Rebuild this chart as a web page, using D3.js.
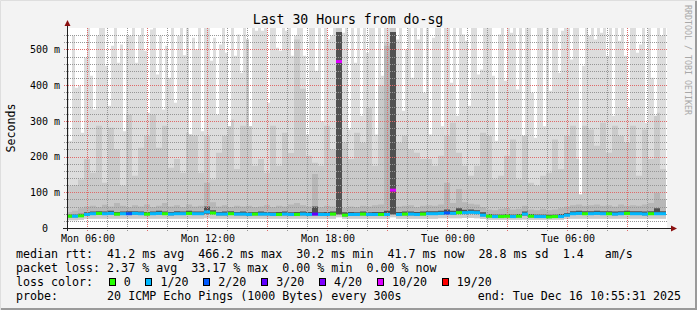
<!DOCTYPE html>
<html>
<head>
<meta charset="utf-8">
<script src="https://cdn.jsdelivr.net/npm/d3@7/dist/d3.min.js"></script>
<style>
body { margin: 0; background: #f3f3f3; }
svg { display: block; }
svg text { font-family: "DejaVu Sans Mono", monospace; white-space: pre; fill: #000; }
</style>
</head>
<body>
<svg id="chart" width="697" height="310"></svg>
<script>

// ---- data ----
var startTime = new Date(2025, 11, 15, 4, 55, 31);
var endTime = new Date(2025, 11, 16, 10, 55, 31);
var stepMin = 18;      // bucket size for median / loss / inner smoke
var topStepMin = 9;    // bucket size for the outer smoke (max ping)

var medianMs = [33,33,34,38,40,41,40,41,39,40, 40,41,40,39,40,41,40,39,40,40,
  41,40,40,45,42,39,39,40,39,39, 38,39,39,39,38,38,39,38,38,39,
  38,39,38,38,39,466,36,38,38,39, 38,38,38,38,106,38,39,39,38,39,
  40,40,41,42,41,43,43,44,43,36, 33,32,32,33,32,33,39,33,32,32,
  31,32,32,36,40,41,40,40,41,40, 40,39,40,41,40,40,39,40,40,40];

var lossCount = [0,1,0,1,1,0,1,1,0,1, 2,1,1,0,1,1,0,1,1,1,
  0,1,1,1,0,1,1,0,1,1, 1,0,1,1,1,0,1,1,0,1,
  1,3,1,1,0,10,0,1,1,0, 1,1,0,1,10,1,0,1,1,0,
  1,1,1,2,1,0,1,1,1,1, 0,1,0,0,1,0,1,0,1,1,
  0,0,1,1,1,1,0,1,1,1, 0,1,1,0,1,1,1,0,1,1];

var ping1Ms = [22,22,23,26,26,26,26,26,26,26, 26,26,26,26,26,26,26,26,26,26,
  26,26,26,27,26,26,26,26,26,26, 26,26,26,26,26,26,26,26,26,26,
  26,26,26,26,26,30,26,26,26,26, 26,26,26,26,30,26,26,26,26,26,
  26,26,27,27,27,27,28,28,27,25, 23,23,23,23,23,23,24,23,23,23,
  23,23,23,25,26,26,26,26,26,26, 26,26,26,26,26,26,26,26,26,26];

var ping4Ms = [30,30,31,35,37,38,37,38,36,37, 37,38,37,36,37,38,37,36,37,37,
  38,37,37,40,39,36,36,37,36,36, 35,36,36,36,35,35,36,35,35,36,
  35,36,35,35,36,38,33,35,35,36, 35,35,35,35,38,35,36,36,35,36,
  37,37,38,39,38,40,40,41,40,33, 30,29,29,30,29,30,35,30,29,29,
  28,29,29,33,37,38,37,37,38,37, 37,36,37,38,37,37,36,37,37,37];

var ping17Ms = [38,38,40,44,46,47,46,48,45,46, 47,47,46,45,46,48,46,45,47,46,
  48,46,46,60,50,45,46,47,45,46, 44,45,46,45,44,45,46,44,45,46,
  45,60,44,45,46,549,44,45,44,46, 44,45,45,48,549,45,46,46,45,46,
  47,47,48,52,48,55,51,52,50,44, 39,38,38,39,38,39,46,39,38,38,
  37,38,39,42,47,48,47,47,48,47, 47,46,47,48,47,47,46,47,55,47];

var ping18Ms = [45,48,55,60,62,58,65,60,70,62, 58,64,60,66,58,62,70,60,64,58,
  66,60,62,127,72,60,64,58,62,60, 62,58,60,64,58,62,60,66,70,64,
  60,151,58,62,60,549,56,60,58,62, 60,64,66,510,549,60,62,64,58,62,
  64,62,66,127,70,109,72,68,66,58, 52,50,54,56,52,54,62,52,50,54,
  50,52,55,60,64,66,62,64,66,62, 64,60,66,62,64,62,66,70,99,80];

var ping19Ms = [118,120,136,193,155,286,127,281,220,118, 318,146,225,258,318,225,286,169,193,155,
  267,258,155,258,136,211,258,304,165,286, 547,174,193,155,286,174,267,210,528,390,
  202,183,174,286,220,600,239,193,267,239, 337,174,398,520,600,239,258,220,211,193,
  193,174,202,258,295,211,174,146,174,267, 258,136,146,202,248,136,258,127,118,146,
  155,248,165,258,286,193,286,276,230,295, 211,286,258,239,286,146,276,193,323,165];

var ping20Ms = [458,244,538,393,398,267,477,600,426,332, 538,600,600,454,342,510,600,463,514,271,
  538,538,600,463,538,600,496,323,556,600, 430,538,332,510,421,600,351,538,600,484,
  600,262,533,500,600,271,600,600,468,533, 318,514,600,491,285,600,482,542,435,600,
  528,285,600,552,600,552,600,351,600,600, 505,496,600,552,600,482,538,600,600,482,
  262,600,600,440,600,299,600,528,538,600, 600,600,547,600,276,600,463,600,314,600,
  491,600,600,262,600,426,600,600,600,600, 528,600,328,500,600,421,600,528,600,379,
  600,262,533,600,600,285,600,600,407,600, 314,600,542,524,342,600,600,430,444,600,
  600,600,426,244,542,600,412,600,547,600, 388,600,258,600,600,379,253,600,600,285,
  600,384,600,600,435,552,600,600,472,600, 600,94,454,600,538,600,528,600,547,600,
  482,600,314,600,524,600,482,337,600,600, 491,514,600,294,600,421,314,600,538,600];

var lossSteps = [0, 1, 2, 3, 4, 10, 19];
var lossLabels = ["0", "1/20", "2/20", "3/20", "4/20", "10/20", "19/20"];
var lossColors = ["#26ff00", "#00b8ff", "#0059ff", "#5e00ff", "#7e00ff", "#dd00ff", "#ff0000"];

var yTicks = [0, 0.1, 0.2, 0.3, 0.4, 0.5];

var legendLines = [
  "median rtt:  41.2 ms avg  466.2 ms max  30.2 ms min  41.7 ms now  28.8 ms sd  1.4   am/s",
  "packet loss: 2.37 % avg  33.17 % max  0.00 % min  0.00 % now",
  "loss color:",
  "probe:       20 ICMP Echo Pings (1000 Bytes) every 300s"
];
var endLabel = "end: Tue Dec 16 10:55:31 2025";
var title = "Last 30 Hours from do-sg";


function drawChart() {
  var W = 697, H = 310;
  var pLeft = 67, pRight = 667, pTop = 28, pBottom = 228;

  var svg = d3.select("#chart");

  // rrdtool puts the time origin one pixel left of the axis line
  var x = d3.scaleTime().domain([startTime, endTime]).range([pLeft - 1, pRight - 1]);
  var y = d3.scaleLinear().domain([0, 0.56]).range([pBottom, pTop]);

  function lossColor(n) {
    var c = lossColors[0];
    for (var k = 0; k < lossSteps.length; k++) {
      if (n >= lossSteps[k]) c = lossColors[k];
    }
    return c;
  }

  // background + 3d border
  svg.append("rect").attr("width", W).attr("height", H).attr("fill", "#f3f3f3");
  svg.append("path").attr("d", "M0.5," + H + "V0.5H" + W).attr("fill", "none").attr("stroke", "#dedede");
  svg.append("path").attr("d", "M1," + (H - 1) + "H" + (W - 1) + "V1").attr("fill", "none")
    .attr("stroke", "#9a9a9a").attr("stroke-width", 2);

  svg.append("rect").attr("x", pLeft).attr("y", pTop).attr("width", pRight - pLeft).attr("height", pBottom - pTop)
    .attr("fill", "#ffffff");

  svg.append("clipPath").attr("id", "plotclip").append("rect")
    .attr("x", pLeft).attr("y", pTop).attr("width", pRight - pLeft).attr("height", pBottom - pTop);

  // ---- smoke ----
  var rows = [];
  for (var j = 0; j < ping20Ms.length; j++) {
    var i = Math.floor(j * topStepMin / stepMin);
    var p20 = ping20Ms[j];
    rows.push({
      t: d3.timeMinute.offset(startTime, j * topStepMin),
      p1: ping1Ms[i],
      p4: Math.min(ping4Ms[i], p20),
      p17: Math.min(ping17Ms[i], p20),
      p18: Math.min(ping18Ms[i], p20),
      p19: Math.min(ping19Ms[i], p20),
      p20: p20
    });
  }
  var lastRow = Object.assign({}, rows[rows.length - 1]);
  lastRow.t = endTime;
  rows.push(lastRow);

  var bands = [
    {lo: "p1", hi: "p20", color: "#dddddd"},
    {lo: "p1", hi: "p19", color: "#cacaca"},
    {lo: "p4", hi: "p18", color: "#b7b7b7"},
    {lo: "p4", hi: "p17", color: "#505050"}
  ];

  var smoke = svg.append("g").attr("clip-path", "url(#plotclip)");
  bands.forEach(function(b) {
    var area = d3.area()
      .x(function(d) { return x(d.t); })
      .y0(function(d) { return y(d[b.lo] / 1000); })
      .y1(function(d) { return y(d[b.hi] / 1000); })
      .curve(d3.curveStepAfter);
    smoke.append("path").datum(rows).attr("d", area).attr("fill", b.color);
  });

  // ---- grid (dotted, on top of the smoke) ----
  var hourTicks = d3.timeHour.every(1).range(startTime, endTime);
  var minorX = hourTicks.filter(function(d) { return d.getHours() % 3 != 0; });
  var majorX = hourTicks.filter(function(d) { return d.getHours() % 3 == 0; });
  var minorY = d3.range(1, 28).map(function(k) { return k * 0.02; })
    .filter(function(v) { return Math.round(v * 100) % 10 != 0; });
  var majorY = yTicks.slice(1);

  var gridGrey = "#969696", gridRed = "#de6a6a";

  function vGrid(vals, color) {
    svg.append("g").attr("class", "grid").selectAll("line").data(vals).enter().append("line")
      .attr("x1", function(d) { return Math.floor(x(d)) + 0.5; })
      .attr("x2", function(d) { return Math.floor(x(d)) + 0.5; })
      .attr("y1", pTop).attr("y2", pBottom + 3)
      .attr("stroke", color).attr("stroke-width", 1).attr("stroke-dasharray", "1 1")
      .attr("shape-rendering", "crispEdges");
  }
  function hGrid(vals, color) {
    svg.append("g").attr("class", "grid").selectAll("line").data(vals).enter().append("line")
      .attr("x1", pLeft - 3).attr("x2", pRight)
      .attr("y1", function(d) { return Math.round(y(d)) + 0.5; })
      .attr("y2", function(d) { return Math.round(y(d)) + 0.5; })
      .attr("stroke", color).attr("stroke-width", 1).attr("stroke-dasharray", "1 1")
      .attr("shape-rendering", "crispEdges");
  }
  vGrid(minorX, gridGrey);
  hGrid(minorY, gridGrey);
  vGrid(majorX, gridRed);
  hGrid(majorY, gridRed);

  // ---- median, coloured by loss ----
  svg.append("g").attr("clip-path", "url(#plotclip)")
    .selectAll("rect")
    .data(medianMs)
    .enter()
    .append("rect")
    .attr("x", function(d, i) { return x(d3.timeMinute.offset(startTime, i * stepMin)); })
    .attr("width", function(d, i) {
      return x(d3.timeMinute.offset(startTime, (i + 1) * stepMin)) - x(d3.timeMinute.offset(startTime, i * stepMin));
    })
    .attr("y", function(d) { return y(d / 1000) - 1.5; })
    .attr("height", 3)
    .attr("fill", function(d, i) { return lossColor(lossCount[i]); });

  // ---- axes ----
  var xLabels = svg.append("g").attr("transform", "translate(0," + pBottom + ")")
    .call(d3.axisBottom(x).ticks(d3.timeHour.every(6)).tickFormat(d3.timeFormat("%a %H:%M"))
      .tickSize(0).tickPadding(6.5));
  xLabels.select(".domain").remove();
  xLabels.selectAll("text").attr("font-family", "DejaVu Sans Mono").attr("font-size", "10px");

  var yLabels = svg.append("g").attr("transform", "translate(" + pLeft + ",0)")
    .call(d3.axisLeft(y).tickValues(yTicks)
      .tickFormat(function(d) { return d == 0 ? "0  " : Math.round(d * 1000) + " m"; })
      .tickSize(0).tickPadding(7));
  yLabels.select(".domain").remove();
  yLabels.selectAll("text").attr("font-family", "DejaVu Sans Mono").attr("font-size", "10px");

  svg.append("line").attr("x1", pLeft - 4).attr("x2", pRight + 5).attr("y1", pBottom + 0.5).attr("y2", pBottom + 0.5)
    .attr("stroke", "#202020");
  svg.append("line").attr("x1", pLeft + 0.5).attr("x2", pLeft + 0.5).attr("y1", pBottom + 3).attr("y2", pTop - 4)
    .attr("stroke", "#202020");
  svg.append("path").attr("d", "M" + (pRight + 4) + "," + (pBottom - 2.5) + "L" + (pRight + 10) + "," + (pBottom + 0.5) +
    "L" + (pRight + 4) + "," + (pBottom + 3.5) + "Z").attr("fill", "#8b1010");
  svg.append("path").attr("d", "M" + (pLeft - 2.5) + "," + (pTop - 2) + "L" + (pLeft + 0.5) + "," + (pTop - 8) +
    "L" + (pLeft + 3.5) + "," + (pTop - 2) + "Z").attr("fill", "#8b1010");

  // ---- titles ----
  svg.append("text").attr("x", 348).attr("y", 24).attr("text-anchor", "middle")
    .attr("font-size", "13.2px").text(title);

  svg.append("text").attr("transform", "translate(15," + ((pTop + pBottom) / 2) + ") rotate(-90)")
    .attr("text-anchor", "middle").attr("font-size", "11.65px").text("Seconds");

  svg.append("text").attr("transform", "translate(685,60) rotate(90)")
    .attr("text-anchor", "middle").attr("font-size", "8.3px").style("fill", "#a8a8a8")
    .text("RRDTOOL / TOBI OETIKER");

  // ---- legend ----
  var fs = 11.65, charW = fs * 0.602;
  var lineY = [257.8, 271.7, 285.8, 299.5];
  legendLines.forEach(function(s, k) {
    svg.append("text").attr("x", 16).attr("y", lineY[k]).attr("font-size", fs + "px").text(s);
  });
  svg.append("text").attr("x", 681).attr("y", lineY[3]).attr("text-anchor", "end")
    .attr("font-size", fs + "px").text(endLabel);

  var col = 13.2;
  lossLabels.forEach(function(lab, k) {
    var sx = 16 + col * charW;
    svg.append("rect").attr("x", Math.round(sx) + 0.5).attr("y", 278.5).attr("width", 6).attr("height", 7)
      .attr("fill", lossColors[k]).attr("stroke", "#000");
    var lx = col + 2.15;
    svg.append("text").attr("x", 16 + lx * charW).attr("y", lineY[2]).attr("font-size", fs + "px").text(lab);
    col = lx + lab.length + 2.1;
  });
}

drawChart();

</script>
</body>
</html>
